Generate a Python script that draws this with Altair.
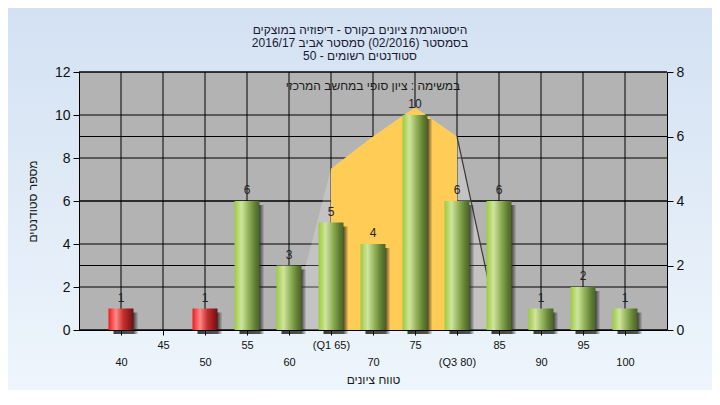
import altair as alt
import pandas as pd

# ---------------- data ----------------
categories = ["40", "45", "50", "55", "60", "(Q1 65)", "70", "75", "(Q3 80)", "85", "90", "95", "100"]
counts = [1, 0, 1, 6, 3, 5, 4, 10, 6, 6, 1, 2, 1]
bar_group = ["fail", "fail", "fail", "pass", "pass", "pass", "pass", "pass", "pass", "pass", "pass", "pass", "pass"]

curve_labels = ["60", "(Q1 65)", "70", "75", "(Q3 80)", "85"]
curve_values = [0, 5, 6, 6.9, 6, 0]
iqr_labels = ["(Q1 65)", "70", "75", "(Q3 80)"]
iqr_values = [5, 6, 6.9, 6]
edge_labels = ["(Q3 80)", "85"]
edge_values = [6, 0]

left_ticks = [0, 2, 4, 6, 8, 10, 12]
right_ticks = [0, 2, 4, 6, 8]

title_lines = [
    "היסטוגרמת ציונים בקורס - דיפוזיה במוצקים",
    "בסמסטר  (02/2016)  סמסטר אביב 2016/17",
    "סטודנטים רשומים - 50",
]
note_text = "במשימה : ציון סופי במחשב המרכזי"
x_title = "טווח ציונים"
y_title = "מספר סטודנטים"

# ---------------- tables ----------------
bars_df = pd.DataFrame({"label": categories, "count": counts, "group": bar_group})
curve_df = pd.DataFrame({"label": curve_labels, "val": curve_values})
iqr_df = pd.DataFrame({"label": iqr_labels, "val": iqr_values})
edge_df = pd.DataFrame({"label": edge_labels, "val": edge_values})
lgrid_df = pd.DataFrame({"v": left_ticks})
rgrid_df = pd.DataFrame({"v": right_ticks})
cat_df = pd.DataFrame({"label": categories})
one_df = pd.DataFrame({"k": [0]})

W, H = 588, 258
PAD = {"left": 71, "top": 64, "right": 45, "bottom": 60}
FONT = "Liberation Sans"

cat_js = "[" + ",".join("'" + c + "'" for c in categories) + "]"
label_expr = f"indexof({cat_js}, datum.label) % 2 == 0 ? ['', datum.label] : datum.label"

x_enc = alt.X(
    "label:N",
    scale=alt.Scale(type="point", domain=categories, padding=1),
    axis=alt.Axis(
        title=x_title, labelExpr=label_expr, labelOverlap=False, labelAngle=0,
        labelFontSize=11, labelColor="#111", labelPadding=4, labelLineHeight=17,
        labelBaseline="top", tickSize=5, tickColor="black", domainColor="black",
        titleFontSize=12, titleFontWeight="normal", titleColor="#1a1a1a",
        titlePadding=7, grid=False, zindex=1,
    ),
)

left_axis = alt.Axis(
    values=left_ticks, orient="left", title=y_title, labelFontSize=14, labelColor="#111",
    tickSize=6, tickColor="black", domainColor="black", labelPadding=3,
    titleFontSize=12, titleFontWeight="normal", titleColor="#1a1a1a", titlePadding=15,
    grid=False, zindex=1,
)
right_axis = alt.Axis(
    values=right_ticks, orient="right", title=None, labelFontSize=14, labelColor="#111",
    tickSize=6, tickColor="black", domainColor="black", labelPadding=3,
    grid=False, zindex=1,
)

left_scale = alt.Scale(domain=[0, 12], nice=False, zero=True)
right_scale = alt.Scale(domain=[0, 8], nice=False, zero=True)

# ---------------- group 1 : background & left grid ----------------
bg_grad = alt.LinearGradient(
    gradient="linear", x1=0, y1=0, x2=0, y2=1,
    stops=[alt.GradientStop(color="#d3e1f2", offset=0), alt.GradientStop(color="#eef5fc", offset=1)],
)
bg = alt.Chart(one_df).mark_rect(fill=bg_grad).encode(
    x=alt.value(-PAD["left"]), x2=alt.value(W + PAD["right"]),
    y=alt.value(-PAD["top"]), y2=alt.value(H + PAD["bottom"]),
)
plot_bg = alt.Chart(one_df).mark_rect(fill="#b3b3b3").encode(
    x=alt.value(0), x2=alt.value(W), y=alt.value(0), y2=alt.value(H),
)
vgrid = alt.Chart(cat_df).mark_rule(color="black", strokeWidth=1).encode(
    x=x_enc, y=alt.value(0), y2=alt.value(H),
)
lgrid = alt.Chart(lgrid_df).mark_rule(color="black", strokeWidth=1).encode(
    y=alt.Y("v:Q", scale=left_scale, axis=left_axis), x=alt.value(0), x2=alt.value(W),
)
g1 = alt.layer(bg, plot_bg, vgrid, lgrid)

# ---------------- group 2 : right scale curve ----------------
rgrid = alt.Chart(rgrid_df).mark_rule(color="black", strokeWidth=1).encode(
    y=alt.Y("v:Q", scale=right_scale, axis=right_axis), x=alt.value(0), x2=alt.value(W),
)
gray_area = alt.Chart(curve_df).mark_area(color="white", opacity=0.22).encode(
    x=x_enc, y=alt.Y("val:Q", scale=right_scale, axis=right_axis),
)
yellow_area = alt.Chart(iqr_df).mark_area(color="#ffcc55", opacity=1).encode(
    x=x_enc, y=alt.Y("val:Q", scale=right_scale, axis=right_axis),
)
edge_line = alt.Chart(edge_df).mark_line(color="#3a3a3a", strokeWidth=1.2).encode(
    x=x_enc, y=alt.Y("val:Q", scale=right_scale, axis=right_axis),
)
g2 = alt.layer(rgrid, gray_area, yellow_area, edge_line)

# ---------------- group 3 : bars ----------------
green_grad = alt.LinearGradient(
    gradient="linear", x1=0, y1=0, x2=1, y2=0,
    stops=[
        alt.GradientStop(color="#9ccb3b", offset=0),
        alt.GradientStop(color="#cfe59f", offset=0.28),
        alt.GradientStop(color="#8fae55", offset=0.58),
        alt.GradientStop(color="#5c7a30", offset=0.85),
        alt.GradientStop(color="#4a6426", offset=1),
    ],
)
red_grad = alt.LinearGradient(
    gradient="linear", x1=0, y1=0, x2=1, y2=0,
    stops=[
        alt.GradientStop(color="#f01818", offset=0),
        alt.GradientStop(color="#ff8a8a", offset=0.3),
        alt.GradientStop(color="#c83030", offset=0.58),
        alt.GradientStop(color="#6e1010", offset=1),
    ],
)
shadow_grad = alt.LinearGradient(
    gradient="linear", x1=0, y1=0, x2=1, y2=0,
    stops=[
        alt.GradientStop(color="rgba(30,30,30,0.85)", offset=0),
        alt.GradientStop(color="rgba(30,30,30,0.75)", offset=0.8),
        alt.GradientStop(color="rgba(30,30,30,0)", offset=1),
    ],
)
y_bar = alt.Y("count:Q", scale=left_scale, axis=None)
base = alt.Chart(bars_df).transform_filter("datum.count > 0")
shadow = base.mark_bar(size=25, fill=shadow_grad, xOffset=5, yOffset=4, y2Offset=4).encode(x=x_enc, y=y_bar)
red_bars = base.transform_filter("datum.group == 'fail'").mark_bar(size=25, fill=red_grad).encode(x=x_enc, y=y_bar)
green_bars = base.transform_filter("datum.group == 'pass'").mark_bar(size=25, fill=green_grad).encode(x=x_enc, y=y_bar)
values_txt = base.mark_text(baseline="bottom", dy=-4, fontSize=12, color="#222", font=FONT).encode(
    x=x_enc, y=y_bar, text="count:Q",
)
note = alt.Chart(one_df).mark_text(fontSize=12, color="#1a1a1a", font=FONT, baseline="middle").encode(
    x=alt.value(W / 2), y=alt.value(14), text=alt.value(note_text),
)
title_txt = alt.Chart(one_df).mark_text(
    text=title_lines, fontSize=12, color="#1a1a33", font=FONT, baseline="middle",
    align="center", lineHeight=13,
).encode(x=alt.value(281), y=alt.value(-42))
g3 = alt.layer(shadow, red_bars, green_bars, values_txt, note, title_txt)

chart = (
    alt.layer(g1, g2, g3)
    .resolve_scale(y="independent")
    .properties(
        width=W, height=H, padding=PAD,
        autosize=alt.AutoSizeParams(type="none"),
    )
    .configure(font=FONT)
    .configure_view(stroke=None)
)

chart.save("out.html", embed_options={"renderer": "svg", "actions": False})
